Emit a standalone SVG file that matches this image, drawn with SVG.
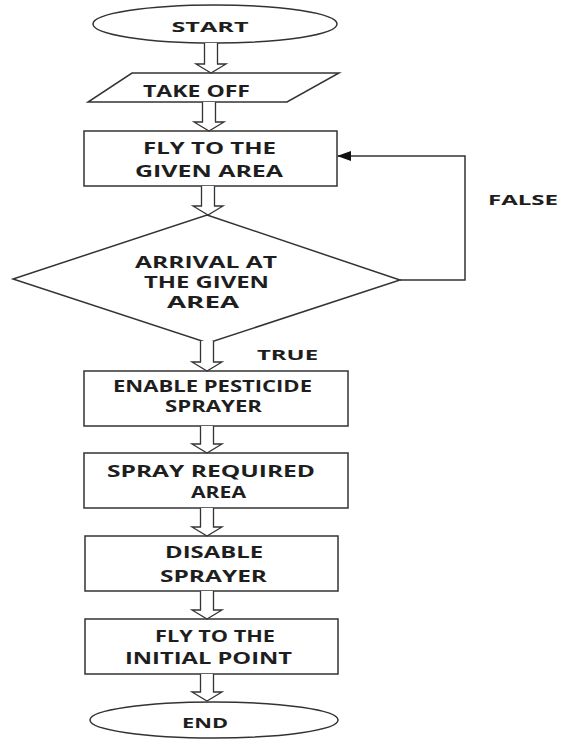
<svg xmlns="http://www.w3.org/2000/svg" width="561" height="739" viewBox="0 0 561 739">
<style>
.s{fill:#fff;stroke:#333;stroke-width:1.5}
.c{fill:none;stroke:#333;stroke-width:1.5}
.ar{fill:#fff;stroke:#333;stroke-width:1.3}
text{font-family:"Open Sans","Liberation Sans",sans-serif;font-weight:700;fill:#1e1e1e;text-anchor:middle;font-size:16px}
.d{font-size:16px}
</style>
<defs>
<marker id="ah" markerWidth="14" markerHeight="10" refX="13" refY="5" orient="auto" markerUnits="userSpaceOnUse">
<path d="M0,0 L14,5 L0,10 Z" fill="#111"/>
</marker>
</defs>
<rect width="561" height="739" fill="#fff"/>
<g id="start"><ellipse class="s" cx="215" cy="24" rx="122" ry="19"/><text x="210" y="32" textLength="77" lengthAdjust="spacingAndGlyphs" style="font-size:15px">START</text></g>
<g id="takeoff"><polygon class="s" points="132,73 339,73 287,102 88,102"/><text x="196.5" y="97" textLength="107" lengthAdjust="spacingAndGlyphs">TAKE OFF</text></g>
<g id="fly"><rect class="s" x="84" y="131" width="253" height="55"/><text x="209.5" y="154" textLength="133" lengthAdjust="spacingAndGlyphs">FLY TO THE</text><text x="209" y="177" textLength="148" lengthAdjust="spacingAndGlyphs">GIVEN AREA</text></g>
<g id="arrival"><polygon class="s" points="207,215 400,280 208,343 13,279"/><text class="d" x="206" y="268" textLength="142" lengthAdjust="spacingAndGlyphs">ARRIVAL AT</text><text class="d" x="206.5" y="288" textLength="125" lengthAdjust="spacingAndGlyphs">THE GIVEN</text><text class="d" x="203" y="308" textLength="72" lengthAdjust="spacingAndGlyphs">AREA</text></g>
<g id="enable"><rect class="s" x="84" y="371" width="264" height="55"/><text x="212.5" y="392" textLength="199" lengthAdjust="spacingAndGlyphs">ENABLE PESTICIDE</text><text x="213.5" y="412" textLength="97" lengthAdjust="spacingAndGlyphs">SPRAYER</text></g>
<g id="spray"><rect class="s" x="84" y="453" width="264" height="55"/><text x="211" y="477" textLength="208" lengthAdjust="spacingAndGlyphs">SPRAY REQUIRED</text><text x="218.5" y="498" textLength="55" lengthAdjust="spacingAndGlyphs">AREA</text></g>
<g id="disable"><rect class="s" x="85" y="536" width="253" height="55"/><text x="214" y="558" textLength="98" lengthAdjust="spacingAndGlyphs">DISABLE</text><text x="213.5" y="582" textLength="107" lengthAdjust="spacingAndGlyphs">SPRAYER</text></g>
<g id="flyback"><rect class="s" x="85" y="619" width="253" height="55"/><text x="215" y="642" textLength="120" lengthAdjust="spacingAndGlyphs">FLY TO THE</text><text x="208.5" y="664" textLength="167" lengthAdjust="spacingAndGlyphs">INITIAL POINT</text></g>
<g id="end"><ellipse class="s" cx="214" cy="720" rx="124" ry="18"/><text x="205" y="728" textLength="46" lengthAdjust="spacingAndGlyphs" style="font-size:15px">END</text></g>
<g id="connectors">
<path class="ar" d="M204.5,43 V64 H196 L211,73 L226,64 H217.5 V43"/>
<path class="ar" d="M202.5,102 V122 H194 L209,131 L224,122 H215.5 V102"/>
<path class="ar" d="M201.5,186 V206 H193 L208,215 L223,206 H214.5 V186"/>
<path class="ar" d="M200.5,341 V362 H192 L207,371 L222,362 H213.5 V341"/>
<path class="ar" d="M200.5,426 V444 H192 L207,453 L222,444 H213.5 V426"/>
<path class="ar" d="M200.5,508 V527 H192 L207,536 L222,527 H213.5 V508"/>
<path class="ar" d="M200.5,591 V610 H192 L207,619 L222,610 H213.5 V591"/>
<path class="ar" d="M200.5,674 V692 H192 L207,701 L222,692 H213.5 V674"/>
<polyline class="c" points="400,280 465,280 465,156 338,156" marker-end="url(#ah)"/>
<text x="523" y="205" textLength="70" lengthAdjust="spacingAndGlyphs" style="font-size:15px">FALSE</text>
<text x="287.5" y="360" textLength="61" lengthAdjust="spacingAndGlyphs" style="font-size:15px">TRUE</text>
</g>
</svg>
